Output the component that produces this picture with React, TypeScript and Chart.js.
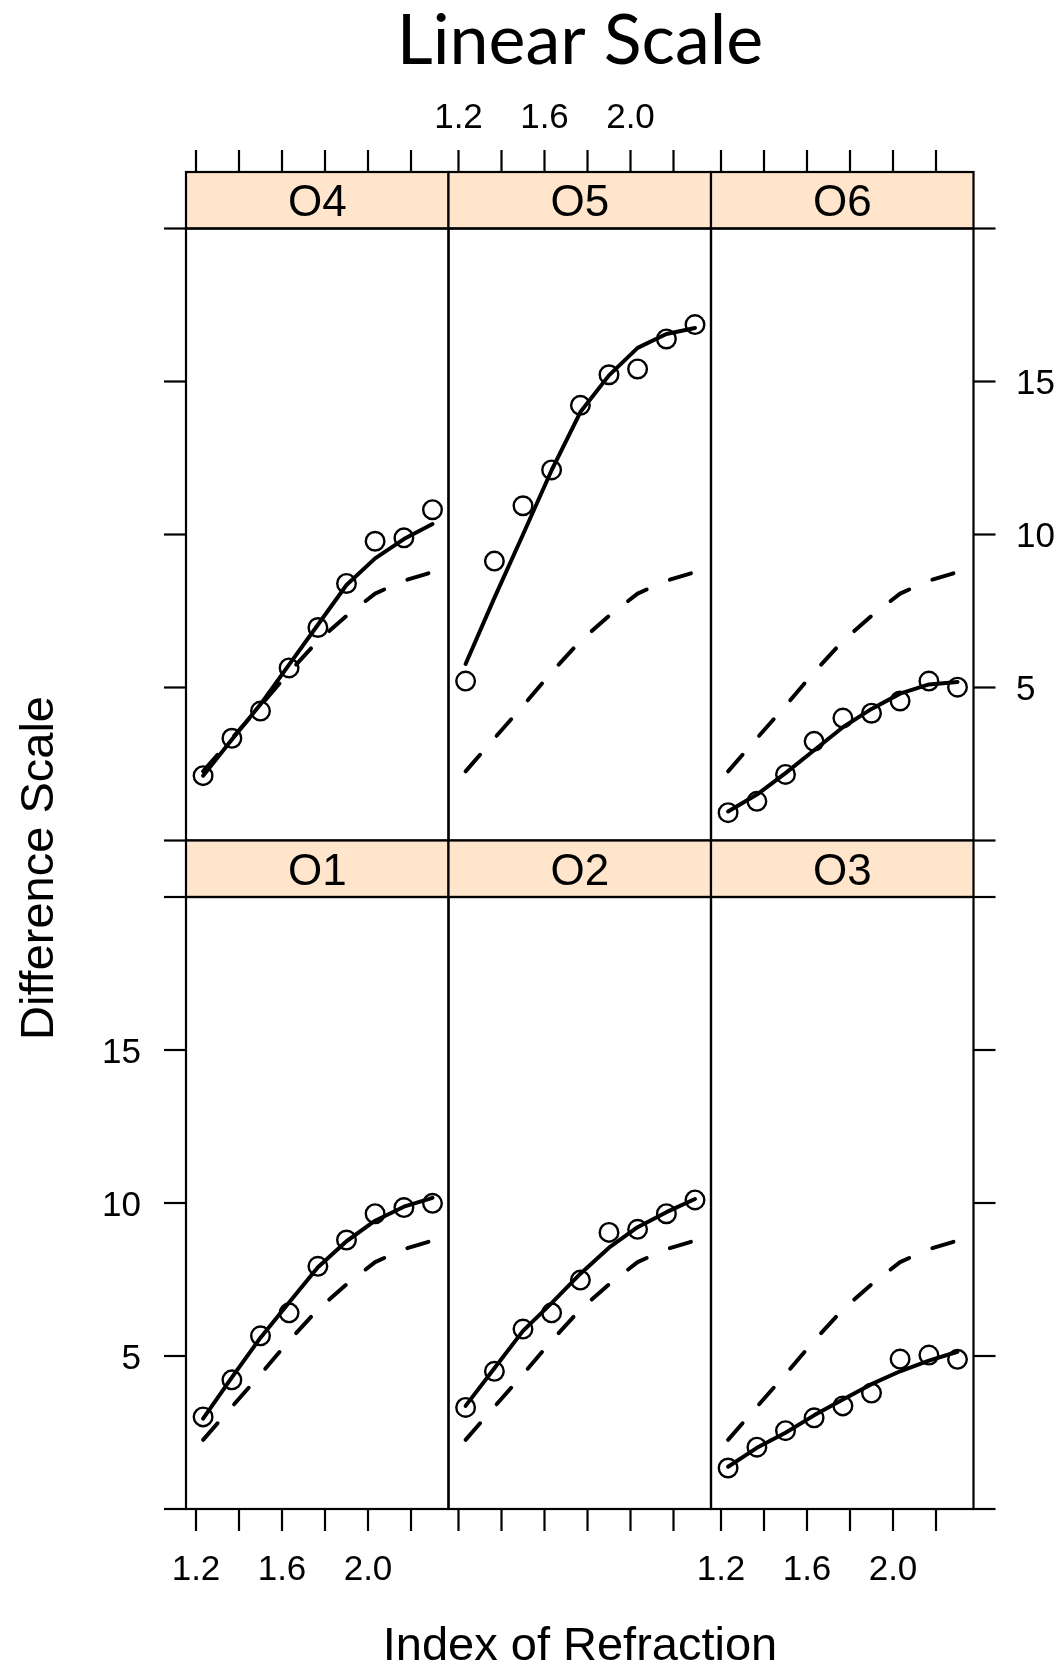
import React, { useEffect, useRef } from "react";
import { Chart, registerables } from "chart.js";

Chart.register(...registerables);

// ---------------- data ----------------
const refraction = [1.233, 1.367, 1.5, 1.633, 1.767, 1.9, 2.033, 2.167, 2.3];

const panelNames = ["O4", "O5", "O6", "O1", "O2", "O3"];

const observedO1 = [3.01, 4.22, 5.66, 6.41, 7.93, 8.79, 9.65, 9.85, 9.99];
const observedO2 = [3.32, 4.5, 5.88, 6.41, 7.48, 9.04, 9.14, 9.65, 10.1];
const observedO3 = [1.34, 2.02, 2.56, 2.98, 3.37, 3.79, 4.9, 5.03, 4.89];
const observedO4 = [2.12, 3.34, 4.23, 5.64, 6.96, 8.4, 9.78, 9.89, 10.81];
const observedO5 = [5.21, 9.13, 10.94, 12.11, 14.22, 15.22, 15.41, 16.39, 16.86];
const observedO6 = [0.91, 1.28, 2.16, 3.24, 4.0, 4.16, 4.56, 5.21, 5.01];

const fittedO1 = [2.95, 4.3, 5.6, 6.75, 7.9, 8.75, 9.42, 9.88, 10.17];
const fittedO2 = [3.37, 4.6, 5.82, 6.73, 7.69, 8.54, 9.21, 9.7, 10.13];
const fittedO3 = [1.38, 2.0, 2.49, 3.06, 3.58, 4.08, 4.5, 4.85, 5.14];
const fittedO4 = [2.12, 3.3, 4.45, 5.75, 7.05, 8.35, 9.22, 9.85, 10.34];
const fittedO5 = [5.77, 7.93, 10.0, 12.1, 14.0, 15.2, 16.1, 16.55, 16.75];
const fittedO6 = [0.95, 1.5, 2.2, 2.95, 3.7, 4.3, 4.8, 5.1, 5.18];

const referenceCurve = [2.26, 3.34, 4.4, 5.5, 6.52, 7.34, 8.07, 8.49, 8.77];

const xTicks = [1.2, 1.4, 1.6, 1.8, 2.0, 2.2];
const xTickLabels = ["1.2", "", "1.6", "", "2.0", ""];
const yTicks = [0, 5, 10, 15, 20];
const yTickLabels = ["", "5", "10", "15", ""];

const mainTitle = "Linear Scale";
const xAxisTitle = "Index of Refraction";
const yAxisTitle = "Difference Scale";

const observedByPanel = [observedO4, observedO5, observedO6, observedO1, observedO2, observedO3];
const fittedByPanel = [fittedO4, fittedO5, fittedO6, fittedO1, fittedO2, fittedO3];

// ---------------- layout ----------------
const W = 1061;
const H = 1666;
const colLeft = [186, 448.5, 711];
const panelW = 262.5;
const rowTop = [228.5, 897];
const panelH = 612;
const stripH = 56.5;
const tickLen = 22;
const xMin = 1.1535;
const xMax = 2.3744;
const yMin = 0;
const yMax = 20;

const SANS = '"Liberation Sans", Arial, Helvetica, sans-serif';

function makePlugin(name: string, r: number, c: number, drawTitles: boolean) {
  return {
    id: "lattice_" + name,
    afterDraw(chart: any) {
      const ctx = chart.ctx as CanvasRenderingContext2D;
      const { left, right, top, bottom } = chart.chartArea;
      const xs = chart.scales.x;
      const ys = chart.scales.y;
      ctx.save();
      ctx.strokeStyle = "#000";
      ctx.fillStyle = "#000";
      ctx.lineWidth = 2.2;

      // strip
      const sTop = top - stripH;
      ctx.fillStyle = "#FFE5CC";
      ctx.fillRect(left, sTop, right - left, stripH);
      ctx.strokeRect(left, sTop, right - left, stripH);
      ctx.fillStyle = "#000";
      ctx.font = "44px " + SANS;
      ctx.textAlign = "center";
      ctx.textBaseline = "alphabetic";
      ctx.fillText(name, (left + right) / 2, sTop + stripH / 2 + 16);

      // panel border
      ctx.strokeRect(left, top, right - left, bottom - top);

      ctx.font = "35px " + SANS;
      const capHalf = 0.716 * 35 / 2;

      // x ticks
      xTicks.forEach((v, i) => {
        const px = xs.getPixelForValue(v);
        if (r === 0) {
          ctx.beginPath();
          ctx.moveTo(px, sTop);
          ctx.lineTo(px, sTop - tickLen);
          ctx.stroke();
          if (c === 1 && xTickLabels[i]) {
            ctx.textAlign = "center";
            ctx.fillText(xTickLabels[i], px, 127.5);
          }
        } else {
          ctx.beginPath();
          ctx.moveTo(px, bottom);
          ctx.lineTo(px, bottom + tickLen);
          ctx.stroke();
          if ((c === 0 || c === 2) && xTickLabels[i]) {
            ctx.textAlign = "center";
            ctx.fillText(xTickLabels[i], px, 1580);
          }
        }
      });

      // y ticks
      yTicks.forEach((v, i) => {
        const py = ys.getPixelForValue(v);
        if (c === 0) {
          ctx.beginPath();
          ctx.moveTo(left, py);
          ctx.lineTo(left - tickLen, py);
          ctx.stroke();
          if (r === 1 && yTickLabels[i]) {
            ctx.textAlign = "right";
            ctx.fillText(yTickLabels[i], 141, py + capHalf);
          }
        }
        if (c === 2) {
          ctx.beginPath();
          ctx.moveTo(right, py);
          ctx.lineTo(right + tickLen, py);
          ctx.stroke();
          if (r === 0 && yTickLabels[i]) {
            ctx.textAlign = "left";
            ctx.fillText(yTickLabels[i], 1016, py + capHalf);
          }
        }
      });

      if (drawTitles) {
        ctx.textAlign = "center";
        ctx.textBaseline = "alphabetic";
        ctx.font = '70px Lato, "Open Sans", sans-serif';
        ctx.fillText(mainTitle, 580, 64);
        ctx.font = "47px " + SANS;
        ctx.fillText(xAxisTitle, 580, 1660);
        ctx.save();
        ctx.translate(53, 868);
        ctx.rotate(-Math.PI / 2);
        ctx.fillText(yAxisTitle, 0, 0);
        ctx.restore();
      }
      ctx.restore();
    },
  };
}

export default function App() {
  const refs = useRef<(HTMLCanvasElement | null)[]>([]);

  useEffect(() => {
    const charts: Chart[] = [];
    panelNames.forEach((name, idx) => {
      const canvas = refs.current[idx];
      if (!canvas) return;
      const r = idx < 3 ? 0 : 1;
      const c = idx % 3;
      const obs = observedByPanel[idx];
      const fit = fittedByPanel[idx];
      const chart = new Chart(canvas, {
        type: "scatter",
        data: {
          datasets: [
            {
              label: "reference",
              data: refraction.map((x, i) => ({ x, y: referenceCurve[i] })),
              showLine: true,
              borderColor: "#000",
              borderWidth: 4,
              borderDash: [22, 25.2],
              borderCapStyle: "round",
              borderJoinStyle: "round",
              pointRadius: 0,
              tension: 0,
            } as any,
            {
              label: "fitted",
              data: refraction.map((x, i) => ({ x, y: fit[i] })),
              showLine: true,
              borderColor: "#000",
              borderWidth: 4,
              borderCapStyle: "round",
              borderJoinStyle: "round",
              pointRadius: 0,
              tension: 0,
            } as any,
            {
              label: "observed",
              data: refraction.map((x, i) => ({ x, y: obs[i] })),
              showLine: false,
              pointStyle: "circle",
              pointRadius: 9.3,
              pointBorderWidth: 2.4,
              pointBorderColor: "#000",
              pointBackgroundColor: "rgba(0,0,0,0)",
            } as any,
          ],
        },
        options: {
          responsive: false,
          animation: false,
          devicePixelRatio: 1,
          events: [],
          layout: {
            padding: {
              left: colLeft[c],
              right: W - colLeft[c] - panelW,
              top: rowTop[r],
              bottom: H - rowTop[r] - panelH,
            },
          },
          scales: {
            x: { type: "linear", min: xMin, max: xMax, display: false },
            y: { type: "linear", min: yMin, max: yMax, display: false },
          },
          plugins: {
            legend: { display: false },
            tooltip: { enabled: false },
            title: { display: false },
          },
        } as any,
        plugins: [makePlugin(name, r, c, idx === 0)],
      });
      charts.push(chart);
    });
    if ((document as any).fonts && (document as any).fonts.load) {
      Promise.all([
        (document as any).fonts.load('70px Lato'),
        (document as any).fonts.load('35px "Liberation Sans"'),
      ])
        .then(() => charts.forEach((ch) => ch.draw()))
        .catch(() => {});
    }
    return () => {
      charts.forEach((ch) => ch.destroy());
    };
  }, []);

  return (
    <div
      style={{
        position: "absolute",
        left: 0,
        top: 0,
        width: W,
        height: H,
        background: "#fff",
        overflow: "hidden",
      }}
    >
      {panelNames.map((name, idx) => (
        <canvas
          key={name}
          ref={(el) => {
            refs.current[idx] = el;
          }}
          width={W}
          height={H}
          style={{ position: "absolute", left: 0, top: 0, width: W, height: H }}
        />
      ))}
    </div>
  );
}
